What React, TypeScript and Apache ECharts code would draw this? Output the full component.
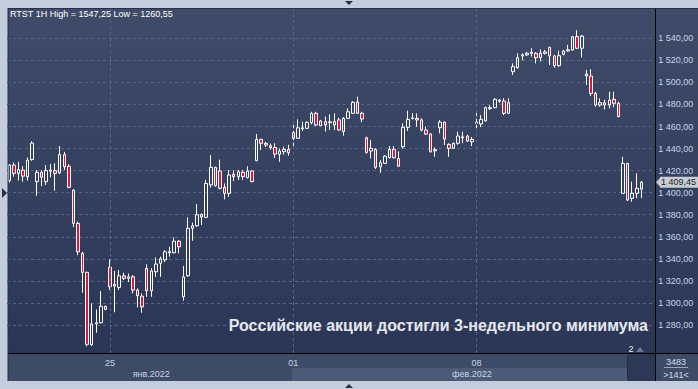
import React, { useEffect, useRef } from 'react';
import * as echarts from 'echarts';

// Hourly candles, each [open, close, low, high]
const candles: number[][] = [
  [1411, 1425, 1409, 1426], [1425, 1417.5, 1414.5, 1427.3], [1417.5, 1421, 1411, 1428], [1420.5, 1415, 1410, 1424],
  [1414.5, 1429.6, 1411, 1432], [1430, 1445, 1429, 1446.5], [1410, 1418.4, 1397.2, 1420.5], [1418.4, 1414, 1406, 1420.5],
  [1410, 1420, 1407, 1425], [1419.5, 1420.5, 1414, 1426], [1420, 1417.5, 1401.8, 1426.6], [1418, 1434.5, 1417, 1442.3],
  [1434.5, 1423.5, 1420.5, 1437], [1424, 1404.8, 1404, 1426], [1402.4, 1372.2, 1369, 1403], [1372.2, 1346.4, 1343.4, 1373.7],
  [1345, 1327.7, 1309.3, 1346.4], [1327.7, 1262.4, 1260.55, 1328.5], [1262, 1281, 1261, 1299.6], [1281, 1282, 1273, 1294],
  [1282, 1297, 1281.5, 1310.8], [1297, 1294, 1293.5, 1297.5], [1332.3, 1314.7, 1311.7, 1339.6], [1315.3, 1316.8, 1291.5, 1329],
  [1314.1, 1324.6, 1311.7, 1329.7], [1324.6, 1322.3, 1320.8, 1327.4], [1322.3, 1323.7, 1319, 1326.7], [1323.7, 1311.7, 1308.7, 1325.3],
  [1311.7, 1306.5, 1296, 1313.2], [1306.2, 1296.5, 1291.1, 1308.7], [1331.4, 1311.1, 1305.6, 1335], [1311, 1329, 1305.6, 1331.5],
  [1328.3, 1335.3, 1323.7, 1341.3], [1336, 1340, 1323.7, 1342], [1339, 1346.4, 1337, 1348], [1345.5, 1346.5, 1342, 1351],
  [1345.5, 1356, 1345, 1359.5], [1356, 1351, 1345, 1357], [1305.6, 1323.7, 1302, 1333.5], [1324.7, 1367.7, 1323.5, 1377.6],
  [1367.7, 1370, 1356.4, 1372.8], [1370, 1380, 1369, 1389.7], [1380.3, 1378, 1370.7, 1381], [1377.6, 1408.4, 1377, 1411.6],
  [1407, 1423, 1404.5, 1434.2], [1423, 1406.3, 1405.5, 1423.5], [1419.7, 1404, 1403, 1430], [1404.8, 1399.4, 1394, 1408.4],
  [1399.4, 1416, 1396.3, 1420.5], [1416.6, 1414.5, 1410.5, 1420.5], [1414.5, 1419, 1411.5, 1420.5], [1418.5, 1414.5, 1411.5, 1420.5],
  [1413.6, 1419.7, 1413, 1424], [1419.7, 1410, 1409.5, 1420.5], [1429, 1448.4, 1428.5, 1453.2], [1448.4, 1444.8, 1438.7, 1448.8],
  [1444.8, 1443.2, 1441.5, 1446], [1442.5, 1441, 1439, 1444.5], [1441, 1435, 1431.5, 1444.8], [1434.8, 1437.8, 1428, 1440],
  [1437.1, 1439.3, 1434.5, 1441.7], [1439.3, 1436.2, 1433.5, 1443.5], [1454.4, 1449.3, 1441.7, 1464.4], [1449.3, 1458.9, 1448.7, 1466.5],
  [1458, 1458.8, 1456, 1464.4], [1458.4, 1463.8, 1458, 1464.5], [1463.5, 1472, 1462, 1473.4], [1472, 1461.4, 1460.5, 1473.4],
  [1460.7, 1465, 1460.5, 1466], [1464.4, 1461.4, 1455.5, 1469], [1463.5, 1464.3, 1457, 1471], [1461.4, 1464.4, 1456.8, 1472],
  [1466, 1456.8, 1456, 1468], [1455.5, 1467.4, 1451.7, 1468.5], [1467.4, 1473.4, 1467, 1476.5], [1472, 1482, 1471.5, 1483],
  [1482, 1472, 1471.5, 1487], [1472, 1466.8, 1464, 1473.5], [1449.8, 1436.5, 1435.5, 1450.8], [1437.8, 1440.2, 1431, 1447.8],
  [1439.3, 1423, 1421.5, 1440.2], [1423.5, 1427.2, 1418, 1429.5], [1426.6, 1433.2, 1426, 1434], [1431.7, 1439.3, 1431, 1442.3],
  [1439.3, 1431.7, 1431, 1442.3], [1431, 1424, 1423.5, 1437.5], [1441.7, 1459.3, 1440, 1463], [1459.3, 1466.5, 1456, 1474.3],
  [1467.2, 1467.8, 1466.5, 1472], [1467.4, 1466, 1459.8, 1472], [1466, 1456.8, 1455.5, 1467.5], [1456.8, 1453.2, 1452.5, 1460],
  [1453.2, 1437.1, 1436.5, 1454], [1438, 1439, 1432.6, 1441], [1458.9, 1464, 1453.8, 1466], [1464, 1448.7, 1443.2, 1464.5],
  [1443.8, 1440.2, 1432.6, 1444.8], [1440.2, 1444.8, 1440, 1445.5], [1444.8, 1451.4, 1443.5, 1455.3], [1449.8, 1450.6, 1444.8, 1455.3],
  [1451.4, 1446.8, 1446, 1452.5], [1446.2, 1448.4, 1442.3, 1450.5], [1464, 1462.9, 1458.1, 1475], [1462.3, 1466.5, 1459.5, 1470.4],
  [1465.1, 1477.2, 1464.5, 1478], [1476.2, 1477.2, 1475, 1479.5], [1477.2, 1484.7, 1476.5, 1485.6], [1483, 1484, 1481.5, 1485],
  [1483.1, 1472, 1470.4, 1485.6], [1472, 1481.6, 1471.5, 1485.6], [1509.7, 1514.3, 1506.7, 1517.3], [1513.3, 1522.4, 1512.5, 1526.4],
  [1524, 1525, 1520, 1526.4], [1525, 1526.5, 1524, 1527.7], [1526.4, 1527.5, 1523.5, 1531], [1526.4, 1522.4, 1517.3, 1527.4],
  [1522.5, 1526.5, 1519, 1530], [1526.4, 1527.7, 1525.3, 1529.5], [1531.8, 1524, 1515.8, 1532.5], [1524, 1515.2, 1513.3, 1525],
  [1515.2, 1524.2, 1514.3, 1528.8], [1525.5, 1528.5, 1524.5, 1529.5], [1528.6, 1529.6, 1528, 1534], [1529.4, 1541.5, 1528.8, 1542.2],
  [1541.5, 1531, 1530.3, 1547.25], [1531, 1542, 1522.7, 1543], [1507.6, 1505.8, 1497.6, 1511.2], [1505.8, 1490, 1487.7, 1511.9],
  [1490, 1479.5, 1478, 1491.5], [1479.5, 1481.6, 1478, 1485.5], [1481.6, 1479.5, 1475.5, 1484.3], [1479.5, 1484, 1476.5, 1491.6],
  [1484.7, 1481, 1477.6, 1491.6], [1481, 1469, 1468.5, 1482.5], [1399.4, 1426.5, 1399, 1432.6], [1426.5, 1393.3, 1392.4, 1427],
  [1394.9, 1399.4, 1391.8, 1410], [1399.4, 1404, 1395, 1417.6], [1403.3, 1409.45, 1395, 1410.6],
];

const slotCount = 141;
const dayTickIndex = [22, 62, 102];
const dayTickLabels = ['25', '01', '08'];
const monthTickIndex = [31, 101];
const monthTickLabels = ['янв.2022', 'фев.2022'];
const yTickMin = 1280;
const yTickMax = 1540;
const yTickStep = 20;
const yViewMin = 1254.6;
const yViewMax = 1567.5;

const titleText = 'RTST 1H High = 1547,25 Low = 1260,55';
const headline = 'Российские акции достигли 3-недельного минимума';
const totalBars = '3483';
const visibleBars = '>141<';
const markerLabel = '2';

const FONT = 'Liberation Sans, Arial, sans-serif';

const fmt = (v: number) => {
  const [a, b] = v.toFixed(2).split('.');
  return a.replace(/\B(?=(\d{3})+(?!\d))/g, ' ') + ',' + b;
};

export default function App() {
  const ref = useRef<HTMLDivElement>(null);

  useEffect(() => {
    if (!ref.current) return;
    const chart = echarts.init(ref.current, undefined, { renderer: 'svg' });

    const plotLeft = 7;
    const plotTop = 8;
    const plotBottom = 353;
    const slotW = 4.58;
    const plotWidth = slotW * slotCount;
    const ppu = (plotBottom - plotTop) / (yViewMax - yViewMin);

    const categories = Array.from({ length: slotCount }, (_, i) => 'c' + i);
    const lastClose = candles[candles.length - 1][1];

    const gridColor = '#56658a';
    const labelColor = '#c9d3e6';

    chart.setOption({
      animation: false,
      backgroundColor: '#c3cddb',
      textStyle: { fontFamily: FONT },
      grid: [
        { left: plotLeft, top: plotTop, width: plotWidth, height: plotBottom - plotTop, containLabel: false },
        {
          left: plotLeft,
          top: plotTop + (yViewMax - yTickMax) * ppu,
          width: plotWidth,
          height: (yTickMax - yTickMin) * ppu,
          containLabel: false,
        },
      ],
      xAxis: [
        {
          type: 'category',
          gridIndex: 0,
          data: categories,
          boundaryGap: true,
          axisLine: { show: false },
          axisTick: { show: false },
          splitLine: { show: false },
          axisLabel: {
            interval: (i: number) => dayTickIndex.includes(i),
            formatter: (_v: string, i: number) => {
              const k = dayTickIndex.indexOf(i);
              return k >= 0 ? dayTickLabels[k] : '';
            },
            color: labelColor,
            fontSize: 9,
            margin: 5,
          },
        },
        {
          type: 'value',
          gridIndex: 1,
          show: false,
        },
        {
          type: 'category',
          gridIndex: 0,
          position: 'bottom',
          offset: 11,
          data: categories,
          boundaryGap: true,
          axisLine: { show: false },
          axisTick: { show: false },
          splitLine: { show: false },
          axisLabel: {
            interval: (i: number) => monthTickIndex.includes(i),
            formatter: (_v: string, i: number) => {
              const k = monthTickIndex.indexOf(i);
              return k >= 0 ? monthTickLabels[k] : '';
            },
            color: labelColor,
            fontSize: 9,
            margin: 5,
          },
        },
      ],
      yAxis: [
        {
          type: 'value',
          gridIndex: 0,
          min: yViewMin,
          max: yViewMax,
          show: false,
        },
        {
          type: 'value',
          gridIndex: 1,
          position: 'right',
          min: yTickMin,
          max: yTickMax,
          interval: yTickStep,
          axisLine: { show: false },
          axisTick: { show: false },
          axisLabel: { color: labelColor, fontSize: 9, margin: 5.5, formatter: (v: number) => fmt(v) },
          splitLine: { show: true, lineStyle: { color: gridColor, type: [3, 3], width: 1 } },
        },
      ],
      series: [
        {
          type: 'line',
          xAxisIndex: 0,
          yAxisIndex: 0,
          data: [],
          z: 1,
          silent: true,
          markLine: {
            silent: true,
            symbol: ['none', 'none'],
            label: { show: false },
            lineStyle: { color: gridColor, type: [3, 3], width: 1 },
            data: dayTickIndex.map((i) => ({ xAxis: i })),
          },
        },
        {
          type: 'candlestick',
          xAxisIndex: 0,
          yAxisIndex: 0,
          data: candles,
          barWidth: 3,
          z: 3,
          itemStyle: {
            color: 'rgba(0,0,0,0)',
            color0: '#e3143a',
            borderColor: '#ffffff',
            borderColor0: '#ffffff',
            borderColorDoji: '#ffffff',
            borderWidth: 1,
          },
        },
      ],
    });

    const py = chart.convertToPixel({ yAxisIndex: 0 }, lastClose) as number;
    const panelGrad = new echarts.graphic.LinearGradient(0, 0, 0, 1, [
      { offset: 0, color: '#3f4b69' },
      { offset: 1, color: '#2b3656' },
    ]);
    const txt = (id: string, text: string, x: number, y: number, o: any = {}) => ({
      type: 'text', id, x, y, z: 20, silent: true,
      style: {
        text, fill: o.fill || '#d3dbea', fontSize: o.fontSize || 9, fontFamily: FONT,
        fontWeight: o.fontWeight || 'normal',
        align: o.align || 'left', textAlign: o.align || 'left',
        verticalAlign: 'middle', textVerticalAlign: 'middle',
      },
    });

    chart.setOption({
      graphic: {
        elements: [
          { type: 'rect', id: 'panel', z: -10, silent: true, shape: { x: 8, y: 8, width: 690, height: 345 }, style: { fill: panelGrad } },
          { type: 'rect', id: 'xpanel', z: -10, silent: true, shape: { x: 8, y: 353, width: 690, height: 28 }, style: { fill: '#3e4b67' } },
          { type: 'rect', id: 'band', z: -9, silent: true, shape: { x: 292, y: 368, width: 336, height: 13 }, style: { fill: '#4b5a77' } },
          { type: 'rect', id: 'navbox', z: -9, silent: true, shape: { x: 628, y: 354, width: 27, height: 27 }, style: { fill: '#2c3855' } },
          { type: 'line', id: 'navedge', z: -8, silent: true, shape: { x1: 627.5, y1: 356, x2: 627.5, y2: 380 }, style: { stroke: '#242c3d', lineWidth: 1 } },
          { type: 'line', id: 'hline', z: 15, silent: true, shape: { x1: 8, y1: 353.5, x2: 698, y2: 353.5 }, style: { stroke: '#000000', lineWidth: 1 } },
          { type: 'line', id: 'vline', z: 15, silent: true, shape: { x1: 655.5, y1: 8, x2: 655.5, y2: 381 }, style: { stroke: '#000000', lineWidth: 1 } },
          { type: 'line', id: 'ledge', z: 15, silent: true, shape: { x1: 8, y1: 8, x2: 8, y2: 381 }, style: { stroke: '#27304a', lineWidth: 1 } },
          { type: 'line', id: 'tedge', z: 15, silent: true, shape: { x1: 8, y1: 8.5, x2: 698, y2: 8.5 }, style: { stroke: '#27304a', lineWidth: 1 } },
          { type: 'polygon', id: 'triTop', z: 15, silent: true, shape: { points: [[345, 1], [353, 1], [349, 5]] }, style: { fill: '#2a3144' } },
          { type: 'polygon', id: 'triBot', z: 15, silent: true, shape: { points: [[345, 388], [353, 388], [349, 384]] }, style: { fill: '#2a3144' } },
          { type: 'polygon', id: 'triLeft', z: 15, silent: true, shape: { points: [[2, 188], [2, 198], [7, 193]] }, style: { fill: '#2a3144' } },
          txt('title', titleText, 10, 14, { fill: '#ffffff', fontSize: 9 }),
          txt('headline', headline, 648, 325, { fill: '#e6e8ee', fontSize: 16, fontWeight: 'bold', align: 'right' }),
          txt('total', totalBars, 676, 362, { align: 'center' }),
          { type: 'line', id: 'totalLine', z: 15, silent: true, shape: { x1: 664, y1: 367.5, x2: 688, y2: 367.5 }, style: { stroke: '#9aa6bc', lineWidth: 1 } },
          txt('visible', visibleBars, 676, 375, { align: 'center' }),
          txt('mark2', markerLabel, 631, 349, { fill: '#e6e8ee', align: 'center' }),
          { type: 'polygon', id: 'markTri', z: 15, silent: true, shape: { points: [[636, 352], [644, 352], [640, 347]] }, style: { fill: '#6b7790' } },
          { type: 'polygon', id: 'priceArrow', z: 16, silent: true, shape: { points: [[656, py], [661, py - 5.5], [661, py + 5.5]] }, style: { fill: '#c8ccd3' } },
          { type: 'rect', id: 'priceBox', z: 16, silent: true, shape: { x: 660, y: py - 5.5, width: 38, height: 11 }, style: { fill: '#c8ccd3' } },
          txt('priceText', fmt(lastClose), 661, py, { fill: '#1c1c1c', fontSize: 9 }),
        ],
      },
    });

    return () => chart.dispose();
  }, []);

  return (
    <div
      ref={ref}
      style={{ position: 'fixed', left: 0, top: 0, width: 698, height: 389 }}
    />
  );
}
